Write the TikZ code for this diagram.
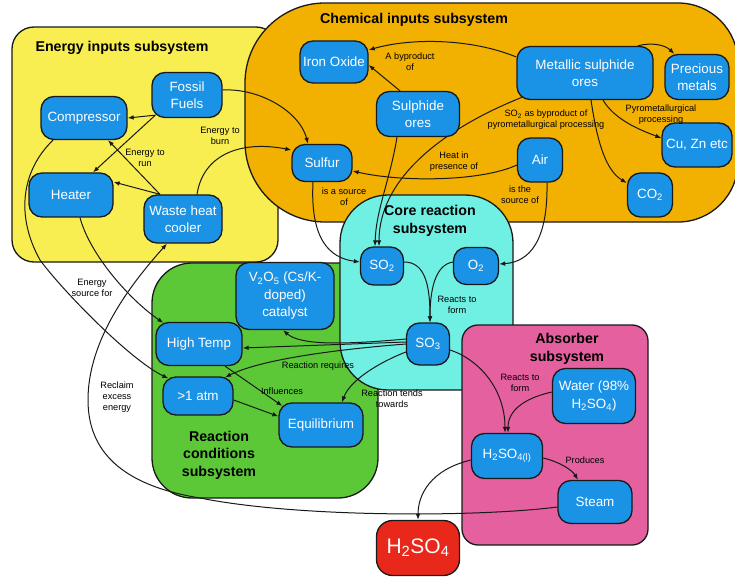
\documentclass[tikz,border=0pt]{standalone}
\usepackage{fontspec}
\setmainfont{Liberation Sans}
\usetikzlibrary{arrows.meta,calc}
\pgfdeclarelayer{regions}
\pgfdeclarelayer{links}
\pgfsetlayers{regions,links,main}

\definecolor{energyyellow}{RGB}{248,238,82}
\definecolor{chemorange}{RGB}{242,176,0}
\definecolor{corecyan}{RGB}{112,240,226}
\definecolor{condgreen}{RGB}{92,200,56}
\definecolor{absorbpink}{RGB}{228,96,158}
\definecolor{nodeblue}{RGB}{26,146,230}
\definecolor{acidred}{RGB}{232,40,26}
\definecolor{edgeline}{RGB}{25,25,25}

\tikzset{
  region/.style={draw=edgeline, line width=1.3pt},
  box/.style={draw=edgeline, line width=1.3pt, fill=nodeblue, rounded corners=13pt,
    text=white, font=\fontsize{13.4}{17.5}\selectfont, align=center, inner sep=0pt},
  sz/.style 2 args={minimum width=#1pt, minimum height=#2pt},
  link/.style={draw=edgeline, line width=1pt, -{Latex[length=6pt,width=4.6pt]}},
  lbl/.style={font=\fontsize{9.2}{11}\selectfont, align=center, text=black, inner sep=0pt},
  ttl/.style={font=\bfseries\fontsize{14.2}{17.5}\selectfont, align=center, text=black, inner sep=0pt}
}

\begin{document}
\begin{tikzpicture}[x=1pt,y=-1pt]
\useasboundingbox (0,0) rectangle (735,577);

% ---------- subsystem regions ----------
\begin{pgfonlayer}{regions}
  \fill[white] (0,0) rectangle (735,577);
  \path[region, fill=energyyellow, rounded corners=22pt] (12,27) rectangle (278,262);
  \path[region, fill=condgreen, rounded corners=40pt] (152,263) rectangle (378,498);
  \path[region, fill=chemorange]
    (500,3) [rounded corners=60pt] -- (738,3) -- (738,222) -- (500,222)
    [rounded corners=80pt] -- (245,222) -- (245,3) -- cycle;
  \path[region, fill=corecyan, rounded corners=48pt] (340,195) rectangle (513,390);
  \path[region, fill=absorbpink, rounded corners=16pt] (462,325) rectangle (648,545);
\end{pgfonlayer}

% ---------- subsystem titles ----------
\node[ttl] (tEnergy) at (122,48) {Energy inputs subsystem};
\node[ttl] (tChem) at (414,20) {Chemical inputs subsystem};
\node[ttl] (tCore) at (430,221) {Core reaction\\subsystem};
\node[ttl] (tCond) at (219,455) {Reaction\\conditions\\subsystem};
\node[ttl] (tAbs) at (567,349) {Absorber\\subsystem};

% ---------- concept nodes ----------
\node[box, sz={68}{42}] (io) at (334,62) {Iron Oxide};
\node[box, sz={70}{45}] (ff) at (187,95) {Fossil\\Fuels};
\node[box, sz={86}{43}] (comp) at (84,118) {Compressor};
\node[box, sz={84}{44}] (heat) at (71,195) {Heater};
\node[box, sz={78}{48}] (whc) at (183,219) {Waste heat\\cooler};
\node[box, sz={60}{37}] (sul) at (322,163) {Sulfur};
\node[box, sz={136}{53}] (mso) at (585,73) {Metallic sulphide\\ores};
\node[box, sz={64}{45}] (pm) at (697,77) {Precious\\metals};
\node[box, sz={83}{45}] (so) at (418,114) {Sulphide\\ores};
\node[box, sz={45}{44}] (air) at (540,160) {Air};
\node[box, sz={70}{44}] (cu) at (697,145) {Cu, Zn etc};
\node[box, sz={45}{44}] (co2) at (650,195) {CO\textsubscript{2}};
\node[box, sz={43}{38}] (so2) at (382,266) {SO\textsubscript{2}};
\node[box, sz={45}{37}] (o2) at (476,266) {O\textsubscript{2}};
\node[box, sz={43}{42}] (so3) at (428,344) {SO\textsubscript{3}};
\node[box, sz={98}{67}] (cat) at (285,296) {V\textsubscript{2}O\textsubscript{5} (Cs/K-\\doped)\\catalyst};
\node[box, sz={86}{43}] (ht) at (199,344) {High Temp};
\node[box, sz={70}{38}] (atm) at (198,396) {>1 atm};
\node[box, sz={84}{44}] (eq) at (321,425) {Equilibrium};
\node[box, sz={83}{55}] (water) at (594,396) {Water (98\%\\H\textsubscript{2}SO\textsubscript{4})};
\node[box, sz={71}{45}] (hl) at (507,456) {H\textsubscript{2}SO\textsubscript{4(l)}};
\node[box, sz={74}{43}] (steam) at (595,502) {Steam};
\node[box, fill=acidred, sz={83}{55}, rounded corners=16pt,
      font=\fontsize{21}{24}\selectfont] (acid) at (418,548) {H\textsubscript{2}SO\textsubscript{4}};

% ---------- connectors ----------
\begin{pgfonlayer}{links}
  % energy inputs
  \draw[link] ([shift={(4pt,3pt)}]ff.south west) -- (comp.east);
  \draw[link] ([shift={(4pt,3pt)}]ff.south west) -- ([xshift=22pt]heat.north);
  \draw[link] ([yshift=5pt]ff.east) .. controls (260,88) and (300,112) .. ([xshift=-14pt]sul.north);
  \draw[link] ([xshift=14pt]whc.north) .. controls (203,155) and (240,140) .. ([yshift=13pt]sul.west);
  \draw[link] ([xshift=-23pt]whc.north) -- ([xshift=24pt]comp.south);
  \draw[link] ([xshift=-23pt]whc.north) -- ([yshift=13pt]heat.east);
  \draw[link] ([xshift=-31pt]comp.south) .. controls (22,170) and (15,215) .. (40,260)
              .. controls (62,290) and (130,360) .. ([shift={(6pt,-2pt)}]atm.north west);
  \draw[link] ([xshift=9pt]heat.south) .. controls (90,255) and (130,300) .. ([shift={(8pt,-1pt)}]ht.north west);
  % reclaimed energy from steam
  \draw[link] ([yshift=-5pt]steam.west) .. controls (480,517) and (300,518) .. (200,498)
              .. controls (120,485) and (88,450) .. (88,400)
              .. controls (88,340) and (130,285) .. ([xshift=-16pt]whc.south);
  \draw[link] ([yshift=-4pt]hl.west) .. controls (430,470) and (418,495) .. (acid.north);
  % chemical inputs
  \draw[link] ([xshift=-9pt]sul.south) .. controls (310,240) and (330,258) .. ([yshift=4pt]so2.west);
  \draw[link] ([yshift=-5pt]air.west) .. controls (480,182) and (400,182) .. ([yshift=-8pt]sul.east);
  \draw[link] ([xshift=-21pt]so.south) .. controls (390,180) and (376,210) .. ([xshift=-7pt]so2.north);
  \draw[link] ([shift={(6pt,3pt)}]mso.south west) .. controls (440,130) and (379,180) .. ([xshift=-3pt]so2.north);
  \draw[link] ([yshift=16pt]mso.west) .. controls (470,38) and (410,38) .. ([yshift=12pt]io.east);
  \draw[link] ([xshift=-18pt]so.north) -- ([yshift=-3pt]io.east);
  \draw[link] ([xshift=-16pt]mso.north east) .. controls (652,42) and (665,45) .. ([xshift=10pt]pm.north west);
  \draw[link] ([xshift=18pt]mso.south) .. controls (615,120) and (640,130) .. ([yshift=7pt]cu.west);
  \draw[link] ([xshift=6pt]mso.south) .. controls (597,140) and (605,170) .. ([yshift=12pt]co2.west);
  \draw[link] ([xshift=7pt]air.south) .. controls (548,240) and (530,262) .. ([yshift=2pt]o2.east);
  % core reaction
  \draw[link] ([yshift=4pt]so2.east) .. controls (425,262) and (430,285) .. ([xshift=2pt]so3.north);
  \draw[link] ([yshift=4pt]o2.west) .. controls (435,265) and (430,290) .. ([xshift=2pt]so3.north);
  % reaction conditions
  \draw[link] ([yshift=5pt]so3.west) .. controls (340,345) and (300,345) .. ([xshift=-2pt]cat.south);
  \draw[link] ([yshift=2pt]so3.west) -- ([yshift=-4pt]ht.east);
  \draw[link] (so3.west) .. controls (330,350) and (260,360) .. ([shift={(27pt,-1pt)}]atm.north);
  \draw[link] ([yshift=-8pt]so3.west) .. controls (380,362) and (350,380) .. ([xshift=21pt]eq.north);
  \draw[link] ([xshift=26pt]ht.south) -- ([shift={(4pt,-3.6pt)}]eq.north west);
  \draw[link] ([yshift=-4pt]atm.east) -- ([yshift=-14pt]eq.north west);
  % absorber
  \draw[link] ([yshift=-6pt]so3.east) .. controls (480,360) and (505,390) .. ([xshift=-2pt]hl.north);
  \draw[link] ([yshift=4pt]water.west) .. controls (525,398) and (508,410) .. ([xshift=1pt]hl.north);
  \draw[link] ([yshift=-2pt]hl.east) .. controls (560,462) and (572,470) .. ([xshift=-17pt]steam.north);
\end{pgfonlayer}

% ---------- connector labels ----------
\node[lbl] (lRun) at (145,158) {Energy to\\run};
\node[lbl] (lBurn) at (220,136) {Energy to\\burn};
\node[lbl] (lSrc) at (92,288) {Energy\\source for};
\node[lbl] (lReclaim) at (117,397) {Reclaim\\excess\\energy};
\node[lbl] (lByp) at (410,62) {A byproduct\\of};
\node[lbl] (lPyroSO) at (546,120) {SO\textsubscript{2} as byproduct of\\pyrometallurgical processing};
\node[lbl] (lPyro) at (661,115) {Pyrometallurgical\\processing};
\node[lbl] (lHeat) at (454,162) {Heat in\\presence of};
\node[lbl] (lSulSrc) at (344,197) {is a source\\of};
\node[lbl] (lAirSrc) at (520,195) {is the\\source of};
\node[lbl] (lReacts) at (457,305) {Reacts to\\form};
\node[lbl] (lReq) at (318,366) {Reaction requires};
\node[lbl] (lInfl) at (282,391) {Influences};
\node[lbl] (lTends) at (392,399) {Reaction tends\\towards};
\node[lbl] (lReacts2) at (520,383) {Reacts to\\form};
\node[lbl] (lProd) at (585,460) {Produces};
\end{tikzpicture}
\end{document}
